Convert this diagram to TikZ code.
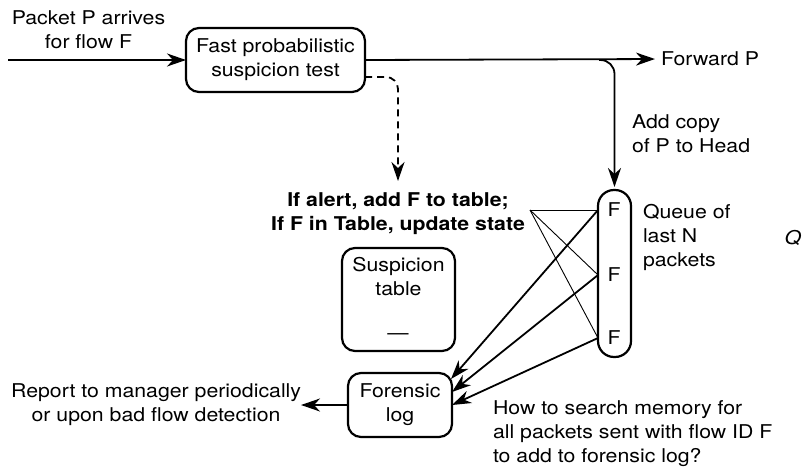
\documentclass[tikz,border=0pt]{standalone}
\usepackage{fontspec}
\setmainfont{TeX Gyre Heros}[FakeStretch=1.12]
\usetikzlibrary{arrows.meta,calc}
\begin{document}
\begin{tikzpicture}[x=1pt,y=-1pt,
  every node/.style={font=\fontsize{19}{24}\selectfont, inner sep=0pt, outer sep=0pt},
  box/.style={draw, line width=2.2pt, rounded corners=13pt, align=center},
  txt/.style={align=center},
  ltxt/.style={align=left},
  arr/.style={-{Stealth[length=19pt,width=13pt,inset=6pt]}, line width=1.8pt},
  dasharr/.style={arr, dash pattern=on 7pt off 5pt},
  thinline/.style={line width=0.9pt},
  fmark/.style={font=\fontsize{19}{24}\selectfont}]
\useasboundingbox (0,0) rectangle (805,471);

% boxes
\node[box, minimum width=179pt, minimum height=64pt] (fast) at (275.5,60) {Fast probabilistic\\suspicion test};
\node[box, minimum width=113pt, minimum height=103pt] (stbl) at (398.5,299.5) {};
\node[txt] (stbltxt) at (398.5,277) {Suspicion\\table};
\node (stbldash) at (398,337) {\textemdash};
\node[box, minimum width=104pt, minimum height=64pt] (flog) at (400,405) {Forensic\\log};
\node[draw, line width=2.2pt, rounded corners=16pt, minimum width=33pt, minimum height=167pt] (queue) at (614.5,273.5) {};
\node[fmark] (f1) at (614,210) {F};
\node[fmark] (f2) at (614,275) {F};
\node[fmark] (f3) at (614,338) {F};

% labels
\node[txt] (arrive) at (88.5,30) {Packet P arrives\\for flow F};
\node[anchor=west] (fwd) at (661,59) {Forward P};
\node[ltxt, anchor=west] (addcopy) at (632,134) {Add copy\\of P to Head};
\node[txt, font=\fontsize{19}{24}\selectfont\bfseries] (alert) at (398,214) {If alert, add F to table;\\If F in Table, update state};
\node[ltxt, anchor=west] (qlabel) at (643,237) {Queue of\\last N\\packets};
\node (qmark) at (793,238) {\itshape Q};
\node[txt, anchor=east] (report) at (301,405) {Report to manager periodically\\or upon bad flow detection};
\node[ltxt, anchor=west] (howto) at (493,434) {How to search memory for\\all packets sent with flow ID F\\to add to forensic log?};

% coordinates
\coordinate (in) at (8,60);
\coordinate (split) at (599,60);
\coordinate (hub) at (530,210);
\coordinate (q1) at (queue.west |- f1);
\coordinate (q2) at (queue.west |- f2);
\coordinate (q3) at (queue.west |- f3);
\coordinate (l1) at ([xshift=-1pt,yshift=26pt]flog.east);
\coordinate (l2) at ([yshift=13pt]flog.east);
\coordinate (l3) at (flog.east);

% main flow
\draw[arr] (in) -- (fast.west);
\draw[arr, shorten >=6pt] (fast.east) -- (fwd.west);
\draw[arr, rounded corners=14pt, shorten >=3pt] (split) -| (queue.north);
\draw[dasharr, rounded corners=12pt, shorten >=12pt] ([yshift=-17pt]fast.east) -| (alert.north);

% table update lines
\draw[thinline] (hub) -- (q1);
\draw[thinline] (hub) -- (q2);
\draw[thinline] (hub) -- (q3);

% copies into the forensic log
\draw[arr] (q1) -- (l1);
\draw[arr] (q2) -- (l2);
\draw[arr] (q3) -- (l3);

% report
\draw[arr] (flog.west) -- (flog.west -| report.east);
\end{tikzpicture}
\end{document}
